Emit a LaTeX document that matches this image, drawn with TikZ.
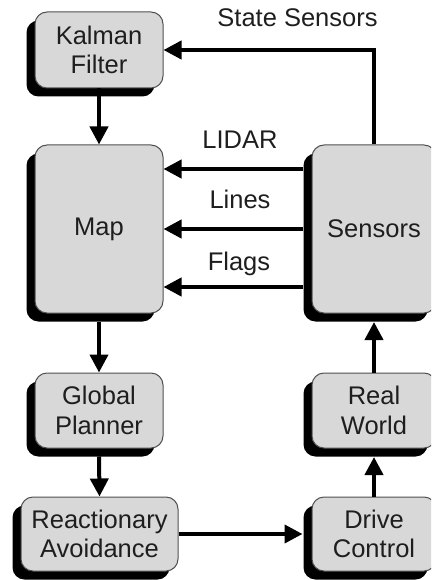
\documentclass[tikz,border=0pt]{standalone}
\usepackage{fontspec}
\setmainfont{Liberation Sans}
\usetikzlibrary{arrows.meta,shadows,calc}

\definecolor{boxfill}{HTML}{D8D8D8}
\definecolor{boxedge}{HTML}{505050}
\definecolor{ink}{HTML}{1E1E1E}

\tikzset{
  block/.style={
    draw=boxedge, line width=1pt, fill=boxfill, rounded corners=12pt,
    align=center, text=ink, inner sep=0pt,
    font=\fontsize{25.5}{29.5}\selectfont,
    general shadow={shadow xshift=-8.5pt, shadow yshift=-8.5pt, fill=black}
  },
  flow/.style={line width=4pt, draw=black,
    -{Triangle[length=18pt,width=18pt]}},
  tag/.style={text=ink, anchor=base, font=\fontsize{25.5}{29.5}\selectfont},
}

\begin{document}
\begin{tikzpicture}[x=1pt,y=-1pt]
  \useasboundingbox (0,0) rectangle (431,580);
  \clip (0,0) rectangle (431,580);

  % box centres
  \coordinate (kc) at (99,50);
  \coordinate (mc) at (99,229);
  \coordinate (gc) at (99,410.5);
  \coordinate (rc) at (99.5,534);
  \coordinate (sc) at (374,229);
  \coordinate (wc) at (374,410.5);
  \coordinate (dc) at (374,534);

  % left column
  \node[block, minimum width=128pt, minimum height=76pt]  (K) at (kc) {Kalman\\Filter};
  \node[block, minimum width=128pt, minimum height=168pt] (M) at (mc) {Map};
  \node[block, minimum width=128pt, minimum height=75pt]  (G) at (gc) {Global\\Planner};
  \node[block, minimum width=157pt, minimum height=74pt]  (R) at (rc) {Reactionary\\Avoidance};

  % right column
  \node[block, minimum width=124pt, minimum height=168pt] (S) at (sc) {Sensors};
  \node[block, minimum width=124pt, minimum height=75pt]  (W) at (wc) {Real\\World};
  \node[block, minimum width=124pt, minimum height=74pt]  (D) at (dc) {Drive\\Control};

  % downward chain on the left (tails start below the shadows)
  \draw[flow] (K.south) -- (M.north);
  \draw[flow] ([yshift=-8pt]M.south) -- (G.north);
  \draw[flow] ([yshift=-8pt]G.south) -- (R.north);

  % across to the drive and back up through the world; tips stop at the shadows
  \draw[flow, shorten >=9pt] (R.east) -- (R.east -| D.west);
  \draw[flow, shorten >=8.5pt] (D.north) -- (W.south);
  \draw[flow, shorten >=8.5pt] (W.north) -- (S.south);

  % sensor outputs
  \draw[flow] ([xshift=-9pt,yshift=60pt]S.west) -- ([yshift=60pt]M.east);
  \draw[flow] ([xshift=-9pt]S.west) -- (M.east);
  \draw[flow] ([xshift=-9pt,yshift=-58pt]S.west) -- ([yshift=-58pt]M.east);
  \draw[flow] (S.north) |- (K.east);

  % connector labels
  \node[tag] (lidar) at (240,149) {LIDAR};
  \node[tag] (lines) at (240,208) {Lines};
  \node[tag] (flags) at (239,270) {Flags};
  \node[tag] (state) at (297.5,27) {State Sensors};
\end{tikzpicture}
\end{document}
